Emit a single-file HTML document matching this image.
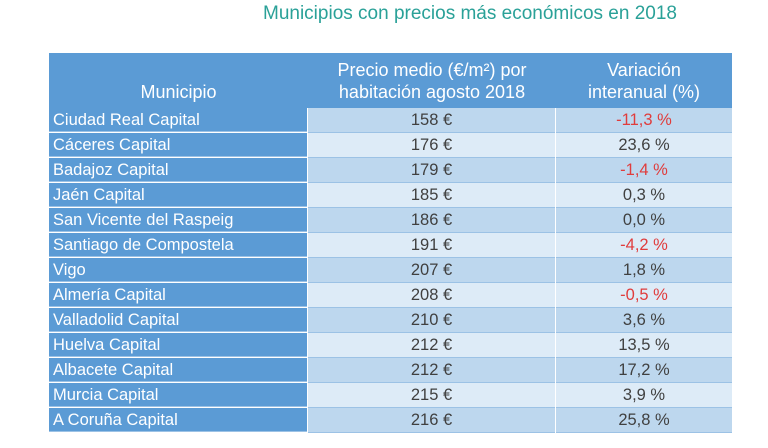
<!DOCTYPE html>
<html><head><meta charset="utf-8"><style>
body{margin:0;width:768px;height:448px;background:#fff;font-family:"Liberation Sans",sans-serif;position:relative;overflow:hidden}
#title{position:absolute;left:195px;width:550px;top:3px;text-align:center;color:#2aa198;font-size:19px}
#hdr{position:absolute;left:49px;top:53px;width:683px;height:55px;background:#5b9bd5;color:#fff;font-size:18px}
.h{position:absolute;top:0;height:55px;display:flex;align-items:flex-end;justify-content:center;text-align:center;line-height:22px;padding-bottom:5px;box-sizing:border-box}
.row{position:absolute;left:49px;width:683px;height:25px;font-size:16.5px}
.c{position:absolute;top:0;height:24px;line-height:25px;border-bottom:1px solid #9cc2e5}
.c1{left:0;width:258px;background:#5b9bd5;color:#fff;padding-left:4px;box-sizing:border-box;border-bottom:1px solid #9cc2e5}
.c2{left:259px;width:247px;text-align:center;color:#404040}
.c3{left:507px;width:176px;text-align:center;color:#404040}
.neg{color:#e03c3c}
</style></head><body>
<div id="title">Municipios con precios más económicos en 2018</div>
<div id="hdr">
<div class="h" style="left:0;width:259px">Municipio</div>
<div class="h" style="left:259px;width:248px">Precio medio (€/m²) por<br>habitación agosto 2018</div>
<div class="h" style="left:507px;width:176px">Variación<br>interanual (%)</div>
</div>
<div id="rows"></div>
<script>
const municipios=["Ciudad Real Capital","Cáceres Capital","Badajoz Capital","Jaén Capital","San Vicente del Raspeig","Santiago de Compostela","Vigo","Almería Capital","Valladolid Capital","Huelva Capital","Albacete Capital","Murcia Capital","A Coruña Capital"];
const precios=[158,176,179,185,186,191,207,208,210,212,212,215,216];
const variaciones=[-11.3,23.6,-1.4,0.3,0.0,-4.2,1.8,-0.5,3.6,13.5,17.2,3.9,25.8];
const cont=document.getElementById('rows');
municipios.forEach((m,i)=>{
  const r=document.createElement('div');
  
  
  r.className='row';r.style.top=(108+i*25)+'px';
  const bg=i%2===0?'#bdd7ee':'#ddebf7';
  const a=document.createElement('div');
  
  
  a.className='c c1';a.textContent=m;
  const b=document.createElement('div');
  
  
  b.className='c c2';b.style.background=bg;b.textContent=precios[i]+' €';
  const c=document.createElement('div');
  
  
  c.className='c c3'+(variaciones[i]<0?' neg':'');c.style.background=bg;
  c.textContent=variaciones[i].toFixed(1).replace('.',',')+' %';
  r.appendChild(a);r.appendChild(b);r.appendChild(c);cont.appendChild(r);
});
</script>
</body></html>
